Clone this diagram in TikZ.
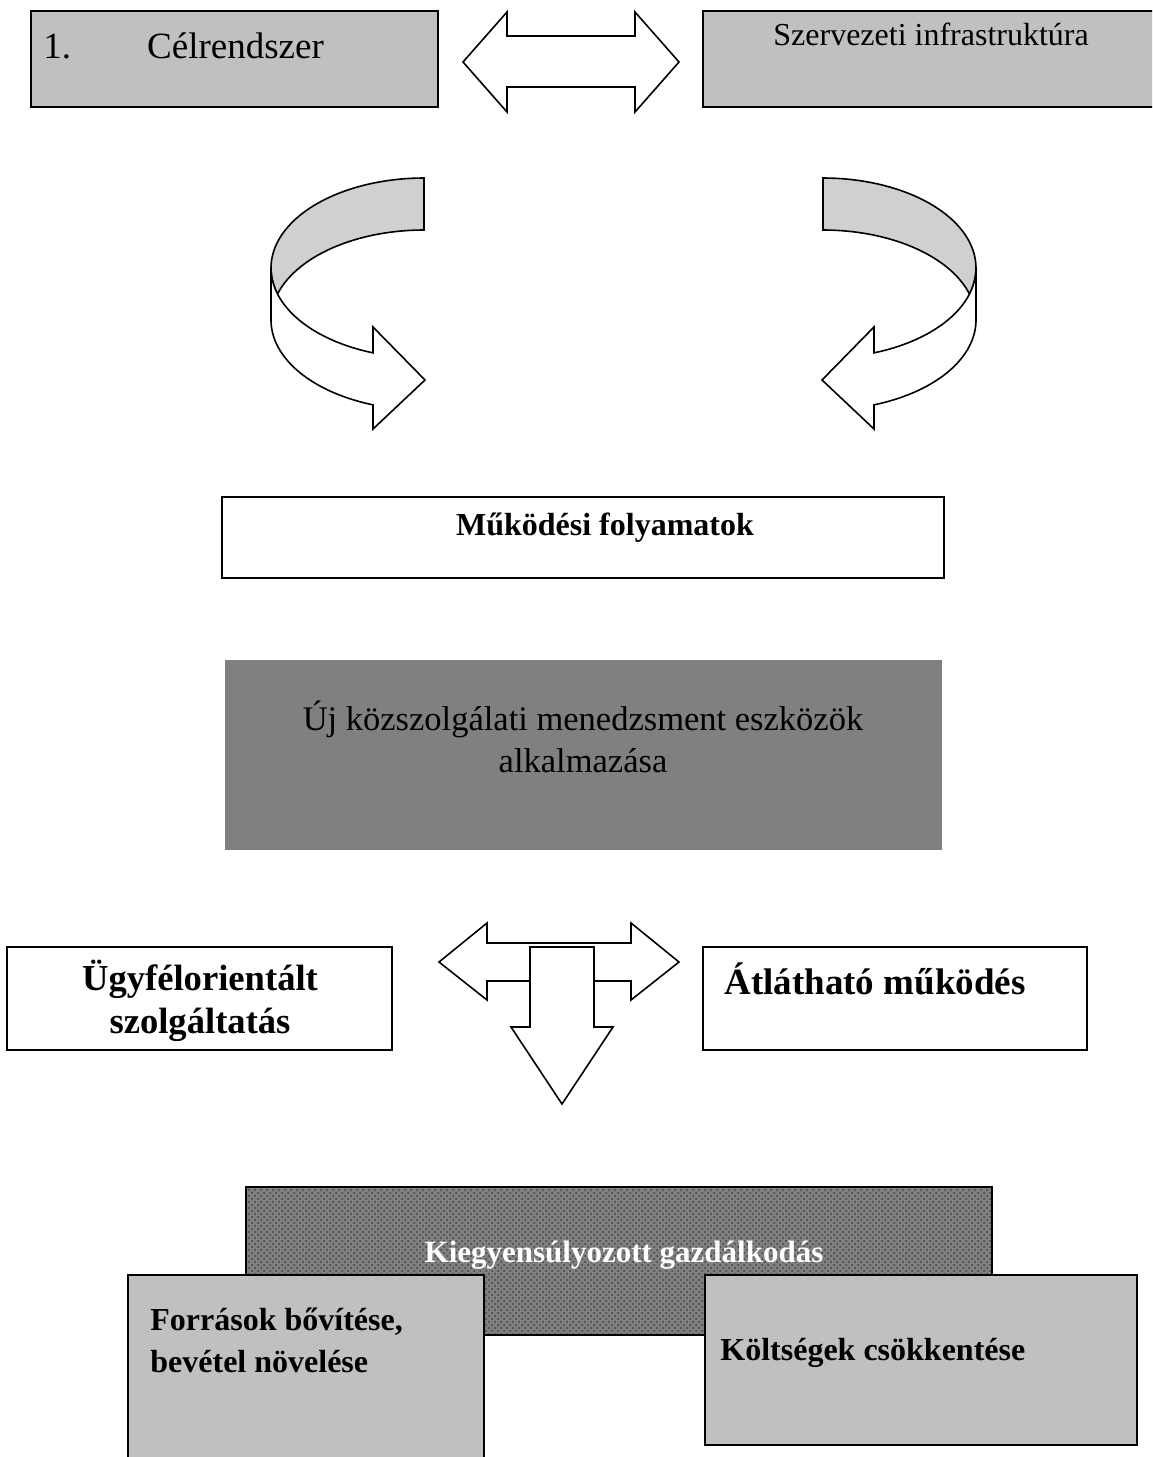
\documentclass[tikz,border=0pt]{standalone}
\usepackage{fontspec}
\setmainfont{Liberation Serif}
\usetikzlibrary{fit, patterns}

\definecolor{boxgray}{HTML}{C0C0C0}
\definecolor{bandgray}{HTML}{D0D0D0}
\definecolor{toolgray}{HTML}{808080}

\begin{document}
\begin{tikzpicture}[x=0.5pt, y=-0.5pt,
  box/.style={draw, line width=1pt, inner sep=0pt},
  blockarrow/.style={draw, line width=0.8pt, fill=white, line join=miter},
  label/.style={inner sep=0pt, anchor=base west}]
  \useasboundingbox (0,0) rectangle (1152,1457);
  \clip (0,0) rectangle (1152,1457);

  \node[box, fill=boxgray, fit={(31,11) (438,107)}] (goals) {};
  \node[label, font=\fontsize{18.5}{22}\selectfont] (goalstext) at (43,58) {1.\hspace{38pt}Célrendszer};
  \node[box, fill=boxgray, fit={(703,11) (1170,107)}] (infra) {};
  \node[label, font=\fontsize{16}{19}\selectfont] (infratext) at (773,45) {Szervezeti infrastruktúra};
  \draw[blockarrow] (463,62) -- (507,12) -- (507,36) -- (635,36) -- (635,12) -- (679,62)
    -- (635,112) -- (635,87) -- (507,87) -- (507,112) -- cycle;

  \foreach \m/\s in {0/1, 1247/-1} {
    \begin{scope}[shift={(\m,0)}, xscale=\s]
      \draw[blockarrow, fill=bandgray]
        plot[domain=180:90, samples=40] ({424+153*cos(\x)}, {268-90*sin(\x)})
        -- plot[domain=90:163.2, samples=40] ({424+153*cos(\x)}, {320-90*sin(\x)})
        -- plot[domain=196.8:180, samples=10] ({424+153*cos(\x)}, {268-90*sin(\x)}) -- cycle;
      \draw[blockarrow]
        plot[domain=180:250.53, samples=40] ({424+153*cos(\x)}, {268-90*sin(\x)})
        -- (373,327) -- (425,380) -- (373,429)
        -- plot[domain=250.53:180, samples=40] ({424+153*cos(\x)}, {320-90*sin(\x)}) -- cycle;
    \end{scope}
  }

  \node[box, fit={(222,497) (944,578)}] (process) {};
  \node[inner sep=0pt, anchor=base, font=\bfseries\fontsize{16}{19}\selectfont] (processtext) at (605,535) {Működési folyamatok};

  \node[inner sep=0pt, fill=toolgray, fit={(225,660) (942,850)}] (tools) {};
  \node[inner sep=0pt, anchor=base, align=center, font=\fontsize{17.25}{20.8}\selectfont] (toolstext) at (583,772)
    {Új közszolgálati menedzsment eszközök\\alkalmazása};

  \draw[blockarrow] (439,962) -- (487,923) -- (487,943) -- (631,943) -- (631,923) -- (679,962)
    -- (631,1000) -- (631,981) -- (487,981) -- (487,1000) -- cycle;
  \draw[blockarrow] (530,947) -- (594,947) -- (594,1027) -- (613,1027) -- (562,1104)
    -- (511,1027) -- (530,1027) -- cycle;

  \node[box, fit={(7,947) (392,1050)}] (client) {};
  \node[inner sep=0pt, anchor=base, align=center, font=\bfseries\fontsize{18.3}{21.5}\selectfont] (clienttext) at (200,1033)
    {Ügyfélorientált\\szolgáltatás};
  \node[box, fit={(703,947) (1087,1050)}] (open) {};
  \node[label, font=\bfseries\fontsize{18.5}{22}\selectfont] (opentext) at (724,994) {Átlátható működés};

  \node[box, preaction={fill=black!50}, pattern=crosshatch dots, pattern color=black!75,
    fit={(246,1187) (992,1335)}] (balance) {};
  \node[inner sep=0pt, anchor=base, text=white, font=\bfseries\fontsize{15.5}{18}\selectfont] (balancetext) at (624,1262)
    {Kiegyensúlyozott gazdálkodás};

  \node[box, fill=boxgray, fit={(128,1275) (484,1470)}] (income) {};
  \node[label, align=left, font=\bfseries\fontsize{16}{21}\selectfont] (incometext) at (150,1372)
    {Források bővítése,\\bevétel növelése};
  \node[box, fill=boxgray, fit={(705,1275) (1137,1445)}] (costs) {};
  \node[label, font=\bfseries\fontsize{16}{19}\selectfont] (coststext) at (720,1360) {Költségek csökkentése};
\end{tikzpicture}
\end{document}
